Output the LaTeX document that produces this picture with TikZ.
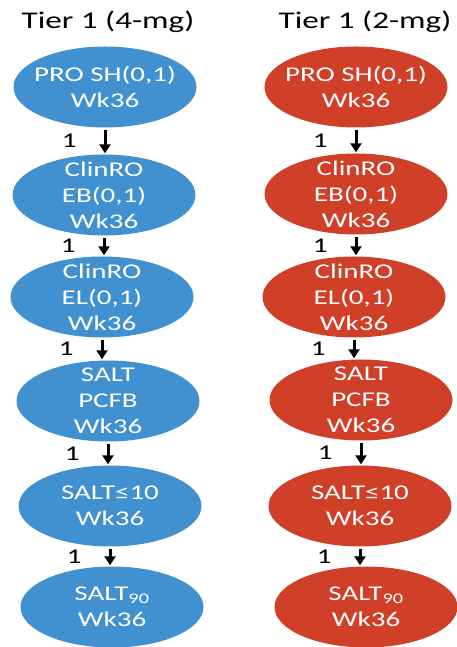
\documentclass[tikz,border=0pt]{standalone}
\usepackage{fontspec}
\setmainfont{Carlito}[FakeStretch=1.38]
\usetikzlibrary{shapes.geometric,arrows.meta}
\definecolor{tierblue}{RGB}{65,144,207}
\definecolor{tierred}{RGB}{208,64,41}

\begin{document}
\begin{tikzpicture}[x=1pt,y=1pt,
	bub/.style={ellipse,minimum width=183pt,minimum height=81pt,inner sep=-15pt,text=white,align=center,font=\fontsize{21}{26}\selectfont},
	num/.style={left=27pt,inner sep=0pt,font=\fontsize{21}{26}\selectfont},
	title/.style={anchor=base,font=\fontsize{24}{28}\selectfont},
	arr/.style={-{Triangle[width=11pt,length=9pt]},line width=3pt,shorten <=2pt,shorten >=1pt}]
			\useasboundingbox (0,0) rectangle (457,647);
			% 4-mg column
			\draw (108,618) node [title] (t1) {Tier 1 (4-mg)};
			\draw (105,560) node [bub,fill=tierblue] (b1) {PRO SH(0,1)\\Wk36};
			\draw (104,452) node [bub,fill=tierblue] (b2) {ClinRO\\EB(0,1)\\Wk36};
			\draw (102,350) node [bub,fill=tierblue] (b3) {ClinRO\\EL(0,1)\\Wk36};
			\draw (108,246) node [bub,fill=tierblue] (b4) {SALT\\PCFB\\Wk36};
			\draw (110,141) node [bub,fill=tierblue] (b5) {SALT≤10\\Wk36};
			\draw (112,40) node [bub,fill=tierblue] (b6) {SALT\textsubscript{90}\\Wk36};
			% 2-mg column
			\draw (365,618) node [title] (t2) {Tier 1 (2-mg)};
			\draw (356,560) node [bub,fill=tierred] (r1) {PRO SH(0,1)\\Wk36};
			\draw (356,453) node [bub,fill=tierred] (r2) {ClinRO\\EB(0,1)\\Wk36};
			\draw (354,350) node [bub,fill=tierred] (r3) {ClinRO\\EL(0,1)\\Wk36};
			\draw (361,247) node [bub,fill=tierred] (r4) {SALT\\PCFB\\Wk36};
			\draw (360,141) node [bub,fill=tierred] (r5) {SALT≤10\\Wk36};
			\draw (366,40) node [bub,fill=tierred] (r6) {SALT\textsubscript{90}\\Wk36};
			\path[arr]
				(b1.south) edge node [num] {1} (b1.south |- b2.north)
				(b2.south) edge node [num] {1} (b2.south |- b3.north)
				(b3.south) edge node [num] {1} (b3.south |- b4.north)
				(b4.south) edge node [num] {1} (b4.south |- b5.north)
				(b5.south) edge node [num] {1} (b5.south |- b6.north)
				(r1.south) edge node [num] {1} (r1.south |- r2.north)
				(r2.south) edge node [num] {1} (r2.south |- r3.north)
				(r3.south) edge node [num] {1} (r3.south |- r4.north)
				(r4.south) edge node [num] {1} (r4.south |- r5.north)
				(r5.south) edge node [num] {1} (r5.south |- r6.north);
		\end{tikzpicture}
\end{document}
